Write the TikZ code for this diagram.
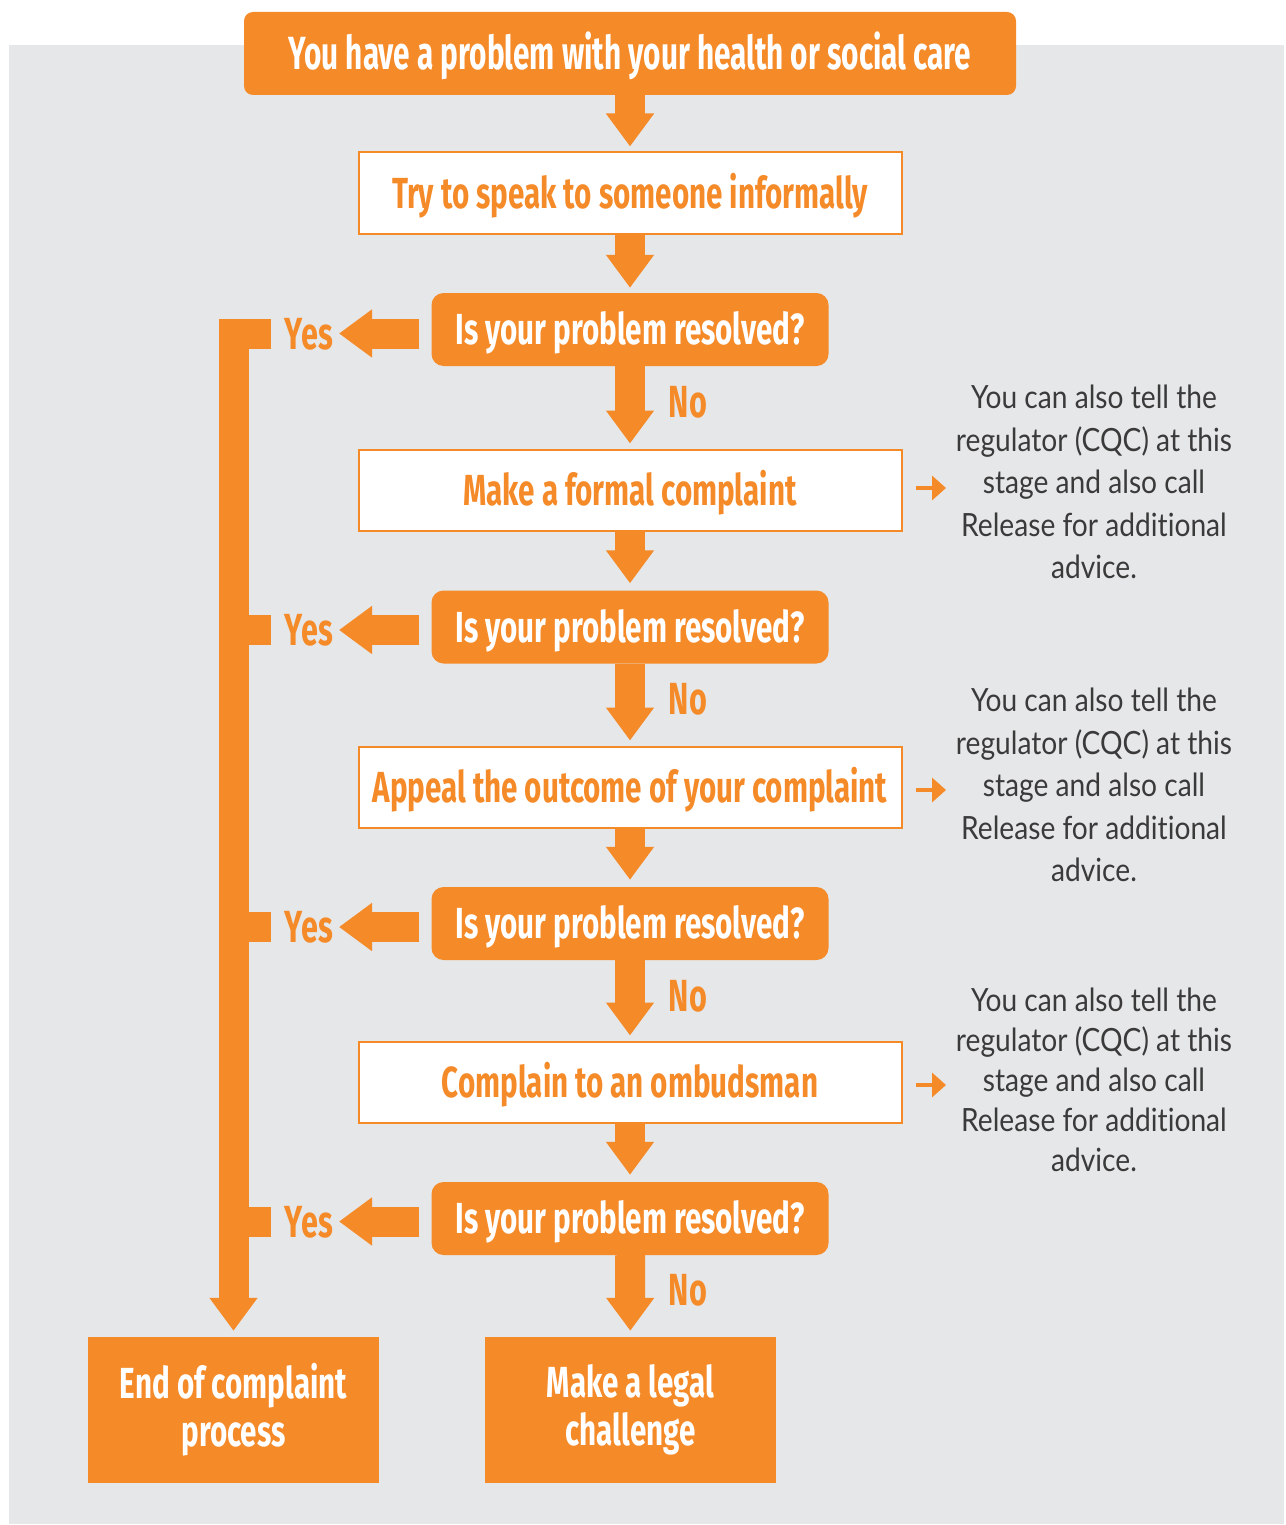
\documentclass[tikz,border=0pt]{standalone}
\usepackage{fontspec}
\usetikzlibrary{arrows.meta}

\newfontfamily\headfont[FakeStretch=0.68]{Fira Sans}
\newfontfamily\titlefont[FakeStretch=0.64]{Fira Sans}
\newfontfamily\notefont[FakeStretch=0.88,Ligatures=NoCommon]{Lato}

\definecolor{brand}{HTML}{F58A29}
\definecolor{panel}{HTML}{E6E7E8}
\definecolor{notegray}{HTML}{3A3A3A}

\tikzset{
	head/.style={font=\headfont\bfseries\fontsize{43.5}{48}\selectfont,inner sep=0pt,text height=30pt,text depth=0pt},
	topbox/.style={head,font=\titlefont\bfseries\fontsize{46.5}{50}\selectfont,text height=32pt,fill=brand,text=white,rounded corners=9pt,minimum width=772pt,minimum height=83pt},
	askbox/.style={head,fill=brand,text=white,rounded corners=12pt,minimum width=397pt,minimum height=73pt},
	stepbox/.style={head,draw=brand,line width=2pt,fill=white,text=brand,minimum width=543pt,minimum height=81pt},
	endbox/.style={font=\headfont\bfseries\fontsize{43.5}{48}\selectfont,inner sep=0pt,fill=brand,text=white,align=center,minimum width=291pt,minimum height=146pt},
	tag/.style={head,text height=31pt,font=\headfont\bfseries\fontsize{45}{48}\selectfont,text=brand},
	note/.style={font=\notefont\fontsize{32}{42.5}\selectfont,text=notegray,align=center,inner sep=0pt},
	flow/.style={draw=brand,line width=30pt,-{Triangle[width=46pt,length=33pt]}},
	rail/.style={draw=brand,line width=30pt},
	hint/.style={draw=brand,line width=4pt,-{Triangle[width=24pt,length=14pt]}},
}

\begin{document}
\begin{tikzpicture}[x=1pt,y=-1pt]

	% page and grey panel
	\useasboundingbox (0,0) rectangle (1285,1525);
	\fill[panel] (9,45) rectangle (1284,1524);

	% main column
	\node[topbox] (start) at (630,53.5) {You have a problem with your health or social care};
	\node[stepbox] (speak) at (630,193) {Try to speak to someone informally};
	\node[askbox] (ask1) at (630,329.5) {Is your problem resolved?};
	\node[stepbox] (formal) at (630,490) {Make a formal complaint};
	\node[askbox] (ask2) at (630,627) {Is your problem resolved?};
	\node[stepbox] (appeal) at (630,787) {Appeal the outcome of your complaint};
	\node[askbox] (ask3) at (630,923.5) {Is your problem resolved?};
	\node[stepbox] (ombud) at (630,1082) {Complain to an ombudsman};
	\node[askbox] (ask4) at (630,1218.5) {Is your problem resolved?};

	\node[endbox] (finish) at (233.5,1410) {End of complaint\\process};
	\node[endbox] (legal) at (630.5,1410) {Make a legal\\challenge};

	% arrows down the column
	\draw[flow,shorten >=5pt] (start) -- (speak);
	\draw[flow,shorten >=5pt] (speak) -- (ask1);
	\draw[flow,shorten >=5pt] (ask1) -- (formal);
	\draw[flow,shorten >=7pt] (formal) -- (ask2);
	\draw[flow,shorten >=5pt] (ask2) -- (appeal);
	\draw[flow,shorten >=7pt] (appeal) -- (ask3);
	\draw[flow,shorten >=5pt] (ask3) -- (ombud);
	\draw[flow,shorten >=7pt] (ombud) -- (ask4);
	\draw[flow,shorten >=6pt] (ask4) -- (legal);

	\node[tag] (no1) at (688,402) {No};
	\node[tag] (no2) at (688,699) {No};
	\node[tag] (no3) at (688,996) {No};
	\node[tag] (no4) at (688,1290) {No};

	% yes branches
	\node[tag,anchor=east] (yes1) at (333,333.5) {Yes};
	\node[tag,anchor=east] (yes2) at (333,630) {Yes};
	\node[tag,anchor=east] (yes3) at (333,927) {Yes};
	\node[tag,anchor=east] (yes4) at (333,1221.5) {Yes};

	\draw[flow,shorten <=12pt,shorten >=6pt] ([yshift=-4pt]ask1.west) -- (yes1.east);
	\draw[flow,shorten <=12pt,shorten >=6pt] ([yshift=-3pt]ask2.west) -- (yes2.east);
	\draw[flow,shorten <=12pt,shorten >=6pt] ([yshift=-3.5pt]ask3.west) -- (yes3.east);
	\draw[flow,shorten <=12pt,shorten >=6pt] ([yshift=-3pt]ask4.west) -- (yes4.east);

	% rail down to the end
	\coordinate (fork1) at (271,333.5);
	\coordinate (fork2) at (271,630);
	\coordinate (fork3) at (271,927);
	\coordinate (fork4) at (271,1221.5);

	\draw[flow,line join=miter,shorten >=6pt] (fork1) -| (finish.north);
	\draw[rail] (fork2 -| finish) -- (fork2);
	\draw[rail] (fork3 -| finish) -- (fork3);
	\draw[rail] (fork4 -| finish) -- (fork4);

	% side notes
	\node[note] (note1) at (1094,482) {You can also tell the\\regulator (CQC) at this\\stage and also call\\Release for additional\\advice.};
	\node[note] (note2) at (1094,785) {You can also tell the\\regulator (CQC) at this\\stage and also call\\Release for additional\\advice.};
	\node[note,font=\notefont\fontsize{32}{40}\selectfont] (note3) at (1094,1080) {You can also tell the\\regulator (CQC) at this\\stage and also call\\Release for additional\\advice.};

	\coordinate (hint1) at (946,488);
	\coordinate (hint2) at (946,790);
	\coordinate (hint3) at (946,1085);

	\draw[hint,shorten <=13pt] (formal.east |- hint1) -- (hint1);
	\draw[hint,shorten <=13pt] (appeal.east |- hint2) -- (hint2);
	\draw[hint,shorten <=13pt] (ombud.east |- hint3) -- (hint3);

\end{tikzpicture}
\end{document}
